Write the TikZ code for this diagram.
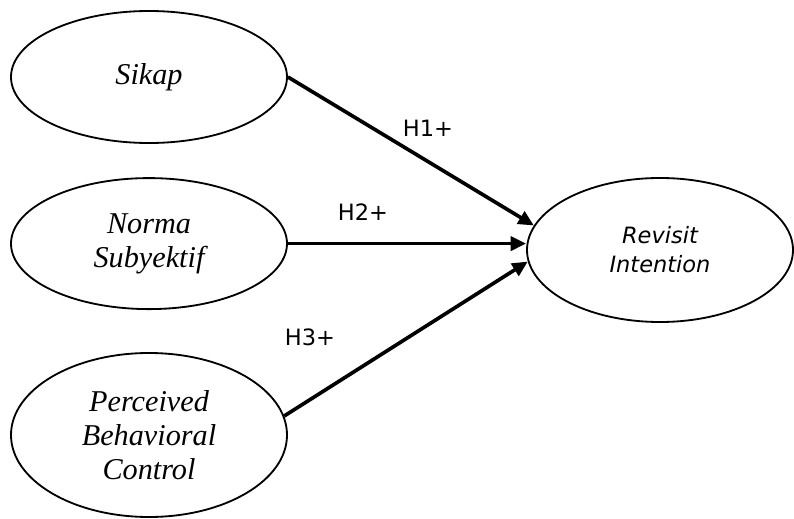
\documentclass[tikz,border=0pt]{standalone}
\usepackage{fontspec}
\setmainfont{Liberation Serif}
\newfontfamily\hypfont{DejaVu Sans}
\usetikzlibrary{shapes.geometric,arrows.meta}
\begin{document}
\begin{tikzpicture}[
            construct/.style={ellipse, draw, line width=1.3pt, inner sep=0pt, align=center,
                font=\itshape\fontsize{21.5}{24}\selectfont},
            link/.style={line width=2.6pt, -{Triangle[length=11pt,width=10pt]}},
            hyp/.style={font=\hypfont\fontsize{16}{19}\selectfont}
        ]
            \useasboundingbox (0,0) rectangle (19.85,12.95);
            \node[construct, minimum width=6.9cm, minimum height=3.3cm] (sk) at (3.725, 11.025) {Sikap};
            \node[construct, minimum width=6.9cm, minimum height=3.275cm] (ns) at (3.725, 6.86) {Norma\\Subyektif};
            \node[construct, minimum width=6.9cm, minimum height=4.1cm] (pbc) at (3.725, 2.075) {Perceived\\Behavioral\\Control};
            \node[construct, minimum width=6.65cm, minimum height=3.6cm,
                font=\hypfont\itshape\fontsize{16}{20.5}\selectfont] (ri) at (16.5, 6.7) {Revisit\\Intention};
            \draw[link] (sk.east) -- (ri.169);
            \draw[link] (ns.east) -- (ns.east -| ri.west);
            \draw[link] (pbc.8) -- (ri.185);
            \node[hyp] (h1) at (10.7, 9.75) {H1+};
            \node[hyp] (h2) at (9.075, 7.65) {H2+};
            \node[hyp] (h3) at (7.75, 4.525) {H3+};
        \end{tikzpicture}
\end{document}
